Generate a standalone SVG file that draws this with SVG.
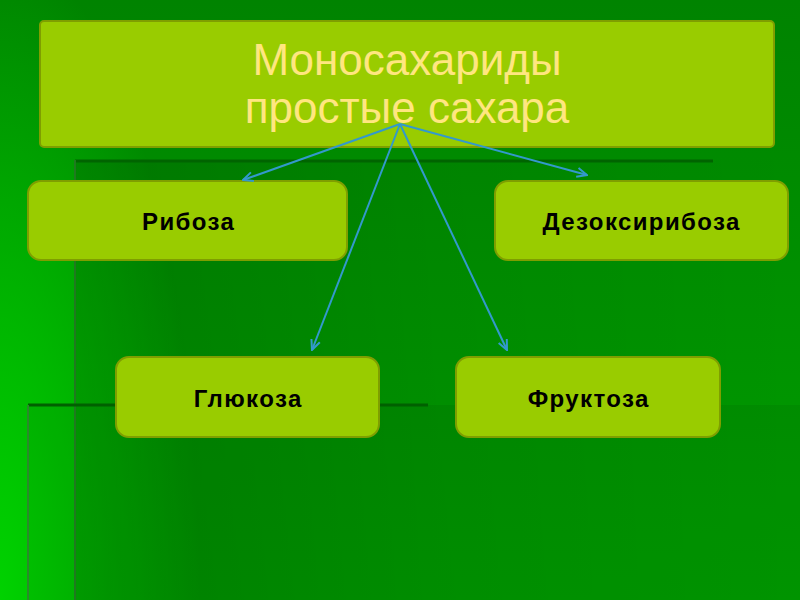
<svg xmlns="http://www.w3.org/2000/svg" width="800" height="600" viewBox="0 0 800 600">
<defs>
<linearGradient id="bg" x1="0" y1="0" x2="0" y2="1">
<stop offset="0" stop-color="#008300"/>
<stop offset="1" stop-color="#009e00"/>
</linearGradient>
<radialGradient id="glow" gradientUnits="userSpaceOnUse" cx="0" cy="600" r="1" gradientTransform="translate(0 600) scale(200 650) translate(0 -600)">
<stop offset="0" stop-color="#00d200" stop-opacity="1"/>
<stop offset="1" stop-color="#00d200" stop-opacity="0"/>
</radialGradient>
<linearGradient id="shade1" x1="0" y1="0" x2="1" y2="0">
<stop offset="0" stop-color="#000" stop-opacity="0.14"/>
<stop offset="0.5" stop-color="#000" stop-opacity="0.05"/>
<stop offset="1" stop-color="#000" stop-opacity="0"/>
</linearGradient>
<marker id="arr" viewBox="0 0 12 12" refX="11" refY="6" markerWidth="12" markerHeight="12" markerUnits="userSpaceOnUse" orient="auto">
<path d="M1,1.5 L11,6 L1,10.5" fill="none" stroke="#3399cc" stroke-width="2" stroke-linejoin="miter"/>
</marker>
<style>
.box{fill:#99cc00;stroke:#7f9e00;stroke-width:2}
.lbl{font-family:"Liberation Sans",Arial,sans-serif;font-weight:bold;font-size:24px;letter-spacing:1.4px;fill:#000;text-anchor:middle}
.ttl{font-family:"Liberation Sans",Arial,sans-serif;font-size:44px;fill:#ffe680;text-anchor:middle}
.con{stroke:#3399cc;stroke-width:2;fill:none;marker-end:url(#arr)}
</style>
</defs>
<g id="background">
<rect x="0" y="0" width="800" height="600" fill="url(#bg)"/>
<rect x="0" y="0" width="800" height="600" fill="url(#glow)"/>
<rect x="75" y="160" width="725" height="440" fill="url(#shade1)"/>
<rect x="28" y="405" width="772" height="195" fill="#000" fill-opacity="0.06"/>
<line x1="75" y1="161" x2="713" y2="161" stroke="#006400" stroke-width="3"/>
<line x1="75" y1="160" x2="75" y2="600" stroke="#1f7a1f" stroke-width="2"/>
<line x1="28" y1="405" x2="428" y2="405" stroke="#006000" stroke-width="3"/>
<line x1="28" y1="405" x2="28" y2="600" stroke="#2a8a2a" stroke-width="2"/>
</g>
<g id="node-title">
<rect class="box" x="40" y="21" width="734" height="126" rx="4"/>
<text class="ttl" x="407" y="75">Моносахариды</text>
<text class="ttl" x="407" y="123">простые сахара</text>
</g>
<g id="node-riboza">
<rect class="box" x="28" y="181" width="319" height="79" rx="13"/>
<text class="lbl" x="188.7" y="230">Рибоза</text>
</g>
<g id="node-dezoksiriboza">
<rect class="box" x="495" y="181" width="293" height="79" rx="13"/>
<text class="lbl" x="641.7" y="230">Дезоксирибоза</text>
</g>
<g id="node-glyukoza">
<rect class="box" x="116" y="357" width="263" height="80" rx="13"/>
<text class="lbl" x="248.2" y="407">Глюкоза</text>
</g>
<g id="node-fruktoza">
<rect class="box" x="456" y="357" width="264" height="80" rx="13"/>
<text class="lbl" x="588.7" y="407">Фруктоза</text>
</g>
<g id="connectors">
<line class="con" x1="400" y1="124" x2="243" y2="180"/>
<line class="con" x1="400" y1="124" x2="587" y2="175"/>
<line class="con" x1="400" y1="124" x2="312" y2="350"/>
<line class="con" x1="400" y1="124" x2="507" y2="350"/>
</g>
</svg>
